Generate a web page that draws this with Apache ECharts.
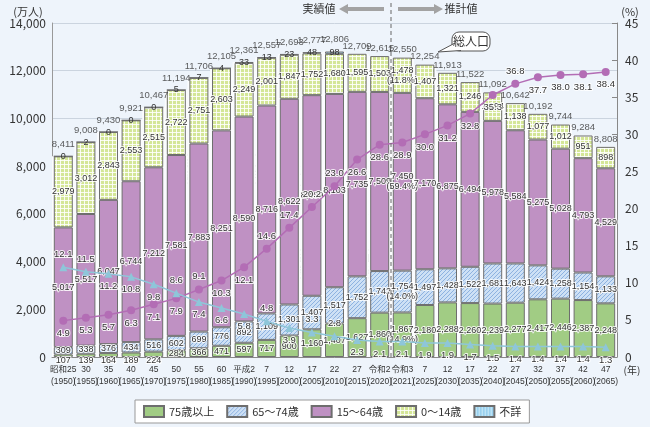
<!DOCTYPE html>
<html>
<head>
<meta charset="utf-8">
<script src="https://cdn.jsdelivr.net/npm/echarts@6/dist/echarts.min.js"></script>
<style>
  html, body { margin: 0; padding: 0; background: #eef4fb; }
  #main { width: 650px; height: 427px; }
</style>
</head>
<body>
<div id="main"></div>
<script>
// 年次（和暦・西暦）
const eraLabels = ['昭和25', '30', '35', '40', '45', '50', '55', '60', '平成2', '7', '12', '17', '22', '27', '令和2',
  '令和3', '7', '12', '17', '22', '27', '32', '37', '42', '47'];
const years = [1950, 1955, 1960, 1965, 1970, 1975, 1980, 1985, 1990, 1995, 2000, 2005, 2010, 2015, 2020,
  2021, 2025, 2030, 2035, 2040, 2045, 2050, 2055, 2060, 2065];

// 人口（万人）
const age75over = [107, 139, 164, 189, 224, 284, 366, 471, 597, 717, 900, 1160, 1407, 1627, 1860,
  1867, 2180, 2288, 2260, 2239, 2277, 2417, 2446, 2387, 2248];
const age65to74 = [309, 338, 376, 434, 516, 602, 699, 776, 892, 1109, 1301, 1407, 1517, 1752, 1742,
  1754, 1497, 1428, 1522, 1681, 1643, 1424, 1258, 1154, 1133];
const age15to64 = [5017, 5517, 6047, 6744, 7212, 7581, 7883, 8251, 8590, 8716, 8622, 8409, 8103, 7735, 7509,
  7450, 7170, 6875, 6494, 5978, 5584, 5275, 5028, 4793, 4529];
const age0to14 = [2979, 3012, 2843, 2553, 2515, 2722, 2751, 2603, 2249, 2001, 1847, 1752, 1680, 1595, 1503,
  1478, 1407, 1321, 1246, 1194, 1138, 1077, 1012, 951, 898];
const ageUnknown = [0, 2, 0, 0, 0, 5, 7, 4, 33, 13, 23, 48, 98, null, null,
  null, null, null, null, null, null, null, null, null, null];
const totalPop = [8411, 9008, 9430, 9921, 10467, 11194, 11706, 12105, 12361, 12557, 12693, 12777, 12806, 12709, 12615,
  12550, 12254, 11913, 11522, 11092, 10642, 10192, 9744, 9284, 8808];

// 令和3年の構成比（%）: 75歳以上, 65～74歳, 15～64歳, 0～14歳
const share2021 = [14.9, 14.0, 59.4, 11.8];

// 割合（%）
const agingRate = [4.9, 5.3, 5.7, 6.3, 7.1, 7.9, 9.1, 10.3, 12.1, 14.6, 17.4, 20.2, 23.0, 26.6, 28.6,
  28.9, 30.0, 31.2, 32.8, 35.3, 36.8, 37.7, 38.0, 38.1, 38.4];
const supportRatio = [12.1, 11.5, 11.2, 10.8, 9.8, 8.6, 7.4, 6.6, 5.8, 4.8, 3.9, 3.3, 2.8, 2.3, 2.1,
  2.1, 1.9, 1.9, 1.7, 1.5, 1.4, 1.4, 1.4, 1.4, 1.3];

// 軸目盛
const popTicks = { min: 0, max: 14000, interval: 2000 };
const rateTicks = { min: 0, max: 45, interval: 5 };

// ---- 見た目 ----
const NUM_FONT = "'Liberation Sans','Noto Sans CJK JP',sans-serif";
const JP_FONT = "'Noto Sans CJK JP',sans-serif";
const idx2021 = years.indexOf(2021);
const lowLabelIdx = [0, 1, 2, 3, 4];           // 75歳以上のラベルを棒の下に出す年
const agingAboveIdx = [6, 9, 10, 11, 12, 20];   // 高齢化率ラベルを点の上に出す年
const supportAboveIdx = [0, 1, 5, 9, 11, 12];   // 支える割合ラベルを点の上に出す年

function makePattern(w, h, bg, draw) {
  const c = document.createElement('canvas');
  c.width = w; c.height = h;
  const ctx = c.getContext('2d');
  ctx.fillStyle = bg;
  ctx.fillRect(0, 0, w, h);
  draw(ctx);
  return { image: c, repeat: 'repeat' };
}
const hatchBlue = makePattern(4, 4, '#cde0f5', ctx => {
  ctx.strokeStyle = '#8db2e0'; ctx.lineWidth = 1;
  ctx.beginPath();
  ctx.moveTo(-1, 5); ctx.lineTo(5, -1);
  ctx.moveTo(-1, 1); ctx.lineTo(1, -1);
  ctx.moveTo(3, 5); ctx.lineTo(5, 3);
  ctx.stroke();
});
const gridGreen = makePattern(4, 4, '#d4e697', ctx => {
  ctx.fillStyle = 'rgba(255,255,255,0.85)';
  ctx.fillRect(0, 0, 4, 1);
  ctx.fillRect(0, 0, 1, 4);
});
const stripeBlue = makePattern(3, 3, '#bde3f5', ctx => {
  ctx.fillStyle = '#86c6ea';
  ctx.fillRect(0, 0, 1, 3);
});

const fmt = v => v.toLocaleString('en-US');
const barBorder = { borderColor: '#6e6e6e', borderWidth: 1 };

function segLabel(shareIdx) {
  return {
    show: true, position: 'inside', fontSize: 9, lineHeight: 10, color: '#333',
    fontFamily: NUM_FONT, textBorderColor: 'rgba(255,255,255,0.85)', textBorderWidth: 2,
    formatter: p => {
      if (p.value == null) return '';
      if (shareIdx != null && p.dataIndex === idx2021) {
        return fmt(p.value) + '\n(' + share2021[shareIdx].toFixed(1) + '%)';
      }
      return fmt(p.value);
    }
  };
}

function lineData(values, aboveIdx) {
  return values.map((v, i) => ({
    value: v,
    label: { position: aboveIdx.indexOf(i) >= 0 ? 'top' : 'bottom' }
  }));
}

const lineLabel = {
  show: true, fontSize: 9.5, color: '#333', fontFamily: NUM_FONT, distance: 4,
  textBorderColor: 'rgba(255,255,255,0.85)', textBorderWidth: 2,
  formatter: p => p.value.toFixed(1)
};

var myChart = echarts.init(document.getElementById('main'));

myChart.setOption({
  animation: false,
  backgroundColor: '#eef4fb',
  textStyle: { fontFamily: JP_FONT },
  grid: { left: 52, right: 33, top: 23, bottom: 70 },
  legend: {
    data: ['75歳以上', '65～74歳', '15～64歳', '0～14歳', '不詳'],
    left: 135, top: 400,
    itemWidth: 20, itemHeight: 11, itemGap: 12,
    padding: [5, 8],
    backgroundColor: '#fff', borderColor: '#999', borderWidth: 1, borderRadius: 0,
    textStyle: { fontSize: 11, color: '#333', fontFamily: JP_FONT },
    icon: 'rect'
  },
  xAxis: [
    {
      type: 'category',
      data: eraLabels.map((e, i) => e + '\n(' + years[i] + ')'),
      axisLine: { lineStyle: { color: '#888' } },
      axisTick: { show: false },
      axisLabel: {
        interval: 0, fontSize: 8.5, lineHeight: 12, margin: 7, color: '#333', fontFamily: NUM_FONT
      }
    },
    { type: 'category', data: eraLabels, show: false }
  ],
  yAxis: [
    {
      type: 'value', min: popTicks.min, max: popTicks.max, interval: popTicks.interval,
      axisLine: { show: true, lineStyle: { color: '#999' } },
      axisTick: { show: false },
      axisLabel: { fontSize: 12, color: '#333', margin: 6, formatter: v => fmt(v) },
      splitLine: { lineStyle: { color: '#cbd4df' } }
    },
    {
      type: 'value', min: rateTicks.min, max: rateTicks.max, interval: rateTicks.interval,
      position: 'right',
      axisLine: { show: true, lineStyle: { color: '#888' } },
      axisTick: { show: true, inside: true, length: 5, lineStyle: { color: '#888' } },
      axisLabel: { fontSize: 12, color: '#333', margin: 8 },
      splitLine: { show: false }
    }
  ],
  series: [
    {
      // 棒の白いふち
      name: 'frame', type: 'bar', xAxisIndex: 1, data: totalPop, barWidth: 23,
      itemStyle: { color: '#fbfcfe' }, silent: true, z: 1
    },
    {
      name: '75歳以上', type: 'bar', stack: 'pop', barWidth: 19, z: 2,
      itemStyle: Object.assign({ color: '#a1cc84' }, barBorder),
      label: segLabel(0),
      data: age75over.map((v, i) => lowLabelIdx.indexOf(i) >= 0
        ? { value: v, label: { position: 'bottom', distance: -1 } }
        : v)
    },
    {
      name: '65～74歳', type: 'bar', stack: 'pop', barWidth: 19, z: 2,
      itemStyle: Object.assign({ color: hatchBlue }, barBorder),
      label: segLabel(1), data: age65to74
    },
    {
      name: '15～64歳', type: 'bar', stack: 'pop', barWidth: 19, z: 2,
      itemStyle: Object.assign({ color: '#bf91c3' }, barBorder),
      label: segLabel(2), data: age15to64
    },
    {
      name: '0～14歳', type: 'bar', stack: 'pop', barWidth: 19, z: 2,
      itemStyle: Object.assign({ color: gridGreen }, barBorder),
      label: segLabel(3), data: age0to14
    },
    {
      name: '不詳', type: 'bar', stack: 'pop', barWidth: 19, z: 2,
      itemStyle: Object.assign({ color: stripeBlue }, barBorder),
      label: Object.assign(segLabel(null), { textBorderWidth: 0 }),
      data: ageUnknown
    },
    {
      name: '総人口', type: 'scatter', symbolSize: 0.1, silent: true, z: 6,
      label: {
        show: true, position: 'top', fontSize: 9.5, color: '#333', fontFamily: NUM_FONT,
        formatter: p => fmt(p.value)
      },
      data: totalPop.map((v, i) => ({
        value: v, label: { distance: ageUnknown[i] != null ? 7 : 3 }
      }))
    },
    {
      name: '高齢化率', type: 'line', yAxisIndex: 1, z: 5,
      symbol: 'circle', symbolSize: 8,
      lineStyle: { color: '#b36db5', width: 1.5 },
      itemStyle: { color: '#b36db5' },
      label: lineLabel,
      data: lineData(agingRate, agingAboveIdx)
    },
    {
      name: '支える割合', type: 'line', yAxisIndex: 1, z: 5,
      symbol: 'triangle', symbolSize: 8,
      lineStyle: { color: '#8ec6d9', width: 1.5 },
      itemStyle: { color: '#8ec6d9' },
      label: lineLabel,
      data: lineData(supportRatio, supportAboveIdx)
    }
  ]
});

// ---- 注記 ----
const xA = myChart.convertToPixel({ xAxisIndex: 0 }, idx2021 - 1);
const xB = myChart.convertToPixel({ xAxisIndex: 0 }, idx2021);
const xSplit = (xA + xB) / 2;
const yTop = myChart.convertToPixel({ yAxisIndex: 0 }, popTicks.max);
const yBase = myChart.convertToPixel({ yAxisIndex: 0 }, 0);

function callout(x, y, w, h, text, tail, fontSize) {
  return {
    type: 'group', z: 100,
    children: [
      { type: 'rect', shape: { x: x, y: y, width: w, height: h, r: 7 },
        style: { fill: '#fff', stroke: '#555', lineWidth: 1 } },
      { type: 'polygon', shape: { points: tail }, style: { fill: '#fff' } },
      { type: 'polyline', shape: { points: [tail[0], tail[2], tail[1]] },
        style: { stroke: '#555', lineWidth: 1, fill: null } },
      { type: 'text', x: x + w / 2, y: y + h / 2,
        style: { text: text, fontSize: fontSize, lineHeight: fontSize + 2, fill: '#333',
          fontFamily: JP_FONT, align: 'center', verticalAlign: 'middle' } }
    ]
  };
}

myChart.setOption({
  graphic: [
    { type: 'line', z: 50, shape: { x1: xSplit, y1: 3, x2: xSplit, y2: yBase },
      style: { stroke: '#666', lineWidth: 1, lineDash: [4, 3] } },
    { type: 'text', x: xSplit - 72, y: 9,
      style: { text: '実績値', fontSize: 11, fill: '#333', fontFamily: JP_FONT, align: 'center', verticalAlign: 'middle' } },
    { type: 'polygon', shape: { points: [[xSplit - 52, 9], [xSplit - 43, 4], [xSplit - 43, 7], [xSplit - 7, 7],
      [xSplit - 7, 11], [xSplit - 43, 11], [xSplit - 43, 14]] }, style: { fill: '#a3a3a3' } },
    { type: 'polygon', shape: { points: [[xSplit + 52, 9], [xSplit + 43, 4], [xSplit + 43, 7], [xSplit + 7, 7],
      [xSplit + 7, 11], [xSplit + 43, 11], [xSplit + 43, 14]] }, style: { fill: '#a3a3a3' } },
    { type: 'text', x: xSplit + 70, y: 9,
      style: { text: '推計値', fontSize: 11, fill: '#333', fontFamily: JP_FONT, align: 'center', verticalAlign: 'middle' } },
    { type: 'text', x: 28, y: yTop - 11,
      style: { text: '(万人)', fontSize: 11, fill: '#333', fontFamily: JP_FONT, align: 'center', verticalAlign: 'middle' } },
    { type: 'text', x: 630, y: yTop - 11,
      style: { text: '(%)', fontSize: 11, fill: '#333', fontFamily: JP_FONT, align: 'center', verticalAlign: 'middle' } },
    { type: 'text', x: 632, y: yBase + 13,
      style: { text: '(年)', fontSize: 10, fill: '#333', fontFamily: JP_FONT, align: 'center', verticalAlign: 'middle' } },
    callout(452, 32, 38, 19, '総人口', [[455, 43], [461, 50.5], [438, 52]], 12),
    callout(180, 155, 118, 28, '高齢化率（65歳以上人口\n割合）（平成29年推計）', [[284, 182.5], [297, 172], [323, 189]], 10),
    callout(283, 250, 112, 28, '65歳以上人口を15～\n64歳人口で支える割合', [[291, 277.5], [300, 277.5], [283, 310]], 10.5)
  ]
});
</script>
</body>
</html>
